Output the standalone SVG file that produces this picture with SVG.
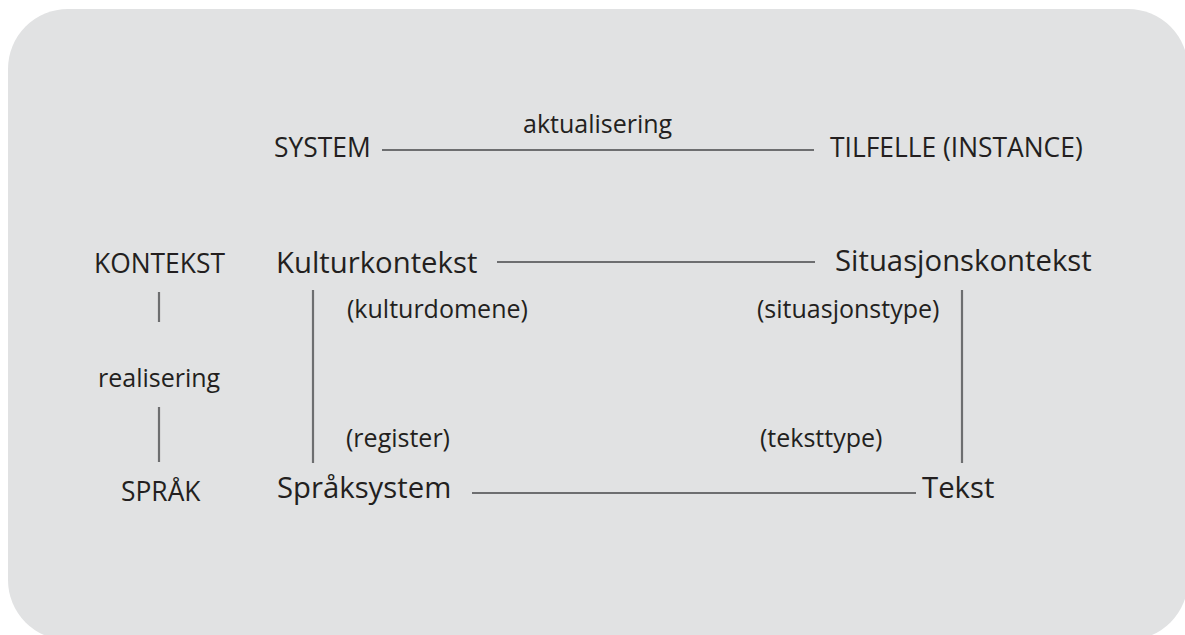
<svg xmlns="http://www.w3.org/2000/svg" width="1185" height="635" viewBox="0 0 1185 635">
<style>
text{font-family:"Open Sans","Liberation Sans",sans-serif;fill:#231f20}
.u{font-size:26.4px}
.s{font-size:25px}
.l{font-size:29.3px}
.c line{stroke:#6d6e70;stroke-width:2.2}
</style>
<rect x="8" y="9" width="1180" height="631" rx="60" fill="#e1e2e3"/>
<g class="c" id="connectors">
<line x1="382" y1="150" x2="814" y2="150"/>
<line x1="497" y1="262" x2="815" y2="262"/>
<line x1="472" y1="493" x2="916" y2="493"/>
<line x1="159" y1="292" x2="159" y2="322"/>
<line x1="159" y1="407" x2="159" y2="462"/>
<line x1="313" y1="290" x2="313" y2="463"/>
<line x1="962" y1="290" x2="962" y2="463"/>
</g>
<g id="system"><text class="u" x="274" y="157">SYSTEM</text></g>
<g id="aktualisering"><text class="s" x="523" y="133">aktualisering</text></g>
<g id="tilfelle"><text class="u" x="830" y="157">TILFELLE (INSTANCE)</text></g>
<g id="kontekst"><text class="u" x="94" y="273">KONTEKST</text></g>
<g id="realisering"><text class="s" x="98" y="387">realisering</text></g>
<g id="sprak"><text class="u" x="121" y="501">SPRÅK</text></g>
<g id="kulturkontekst"><text class="l" x="276" y="273">Kulturkontekst</text></g>
<g id="situasjonskontekst"><text class="l" x="835" y="271">Situasjonskontekst</text></g>
<g id="kulturdomene"><text class="s" x="347" y="318">(kulturdomene)</text></g>
<g id="situasjonstype"><text class="s" x="757" y="318">(situasjonstype)</text></g>
<g id="register"><text class="s" x="346" y="447">(register)</text></g>
<g id="teksttype"><text class="s" x="760" y="447">(teksttype)</text></g>
<g id="spraksystem"><text class="l" x="277" y="498">Språksystem</text></g>
<g id="tekst"><text class="l" x="922" y="498">Tekst</text></g>
</svg>
